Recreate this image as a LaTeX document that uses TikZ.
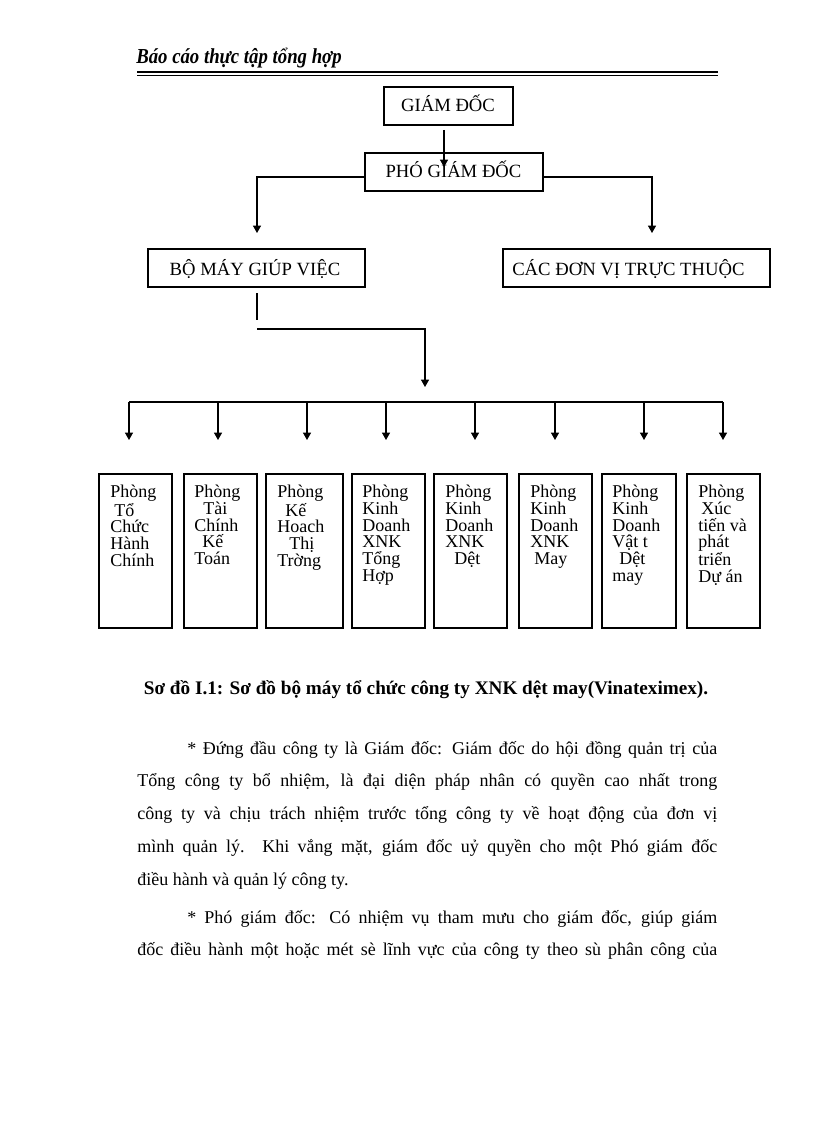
\documentclass[tikz,border=0pt]{standalone}
\usepackage{fontspec}
\setmainfont{Liberation Serif}
\usetikzlibrary{arrows.meta}
\newdimen\pxu
\pxu=0.75pt
\begin{document}
\begin{tikzpicture}[x=0.75pt,y=-0.75pt,
  box/.style={draw, line width=0.8pt, inner sep=0pt},
  conn/.style={line width=0.8pt},
  arr/.style={conn, -{Triangle[length=5.5pt,width=6pt]}},
  title/.style={font=\fontsize{14}{16}\selectfont, anchor=base, inner sep=0pt},
  ptext/.style={font=\fontsize{13.5}{12.5}\selectfont, align=left, anchor=north west, inner sep=0pt},
  body/.style={anchor=base west, inner sep=0pt, text width=580\pxu, align=justify, font=\fontsize{13.5}{24.6}\selectfont},
]
\useasboundingbox (0,0) rectangle (816,1123);

% header
\node[anchor=base west, inner sep=0pt, font=\fontsize{16}{18}\selectfont\bfseries\itshape] (hdr) at (136,64) {\scalebox{0.88}[1]{Báo cáo thực tập tổng hợp}};
\coordinate (ra) at (137,72.5);
\coordinate (rb) at (718,72.5);
\coordinate (rc) at (137,75.5);
\coordinate (rd) at (718,75.5);
\draw[line width=1.5pt] (ra) -- (rb);
\draw[line width=0.6pt] (rc) -- (rd);

% top boxes
\node[box, minimum width=129\pxu, minimum height=38\pxu] (gd) at (448.5,106) {};
\node[title] (gdt) at (448,112) {GIÁM ĐỐC};
\node[box, minimum width=178\pxu, minimum height=38\pxu] (pgd) at (454,172) {};
\node[title] (pgdt) at (453.5,178) {PHÓ GIÁM ĐỐC};
\node[box, minimum width=217\pxu, minimum height=38\pxu] (bm) at (256.5,268) {};
\node[title] (bmt) at (255,275) {BỘ MÁY GIÚP VIỆC};
\node[box, minimum width=267\pxu, minimum height=38\pxu] (cdv) at (636.5,268) {};
\node[title, anchor=base west] (cdvt) at (512,275) {CÁC ĐƠN VỊ TRỰC THUỘC};

% connectors top
\coordinate (a0) at (444,130);
\coordinate (a1) at (444,167);
\draw[arr] (a0) -- (a1);
\coordinate (l0) at (365,177);
\coordinate (l1) at (257,233);
\draw[arr] (l0) -| (l1);
\coordinate (r0) at (543,177);
\coordinate (r1) at (652,233);
\draw[arr] (r0) -| (r1);
\coordinate (s0) at (257,293);
\coordinate (s1) at (257,320);
\draw[conn] (s0) -- (s1);
\coordinate (m0) at (257,329);
\coordinate (m1) at (425,387);
\draw[arr] (m0) -| (m1);
\coordinate (bus0) at (129,402);
\coordinate (bus1) at (723,402);
\draw[conn] (bus0) -- (bus1);
\foreach \i/\x in {1/129,2/218,3/307,4/386,5/475,6/555,7/644,8/723}{
  \coordinate (d\i a) at (\x,402);
  \coordinate (d\i b) at (\x,440);
  \draw[arr] (d\i a) -- (d\i b);
}

% department boxes
\node[box, minimum width=73\pxu, minimum height=154\pxu] (b1) at (135.5,551) {};
\node[box, minimum width=73\pxu, minimum height=154\pxu] (b2) at (220.5,551) {};
\node[box, minimum width=77\pxu, minimum height=154\pxu] (b3) at (304.5,551) {};
\node[box, minimum width=73\pxu, minimum height=154\pxu] (b4) at (388.5,551) {};
\node[box, minimum width=73\pxu, minimum height=154\pxu] (b5) at (470.5,551) {};
\node[box, minimum width=73\pxu, minimum height=154\pxu] (b6) at (555.5,551) {};
\node[box, minimum width=74\pxu, minimum height=154\pxu] (b7) at (639,551) {};
\node[box, minimum width=73\pxu, minimum height=154\pxu] (b8) at (723.5,551) {};

\node[ptext] (t1) at (110,485) {Phòng\\\hspace*{4\pxu}Tổ\\Chức\\Hành\\Chính};
\node[ptext] (t2) at (194,485) {Phòng\\\hspace*{9\pxu}Tài\\Chính\\\hspace*{8\pxu}Kế\\Toán};
\node[ptext] (t3) at (277,485) {Phòng\\\hspace*{8\pxu}Kế\\Hoach\\\hspace*{12\pxu}Thị\\Trờng};
\node[ptext] (t4) at (362,485) {Phòng\\Kinh\\Doanh\\XNK\\Tổng\\Hợp};
\node[ptext] (t5) at (445,485) {Phòng\\Kinh\\Doanh\\XNK\\\hspace*{9\pxu}Dệt};
\node[ptext] (t6) at (530,485) {Phòng\\Kinh\\Doanh\\XNK\\\hspace*{4\pxu}May};
\node[ptext] (t7) at (612,485) {Phòng\\Kinh\\Doanh\\Vật t\\\hspace*{7\pxu}Dệt\\may};
\node[ptext] (t8) at (698,485) {Phòng\\\hspace*{3\pxu}Xúc\\tiến và\\phát\\triển\\Dự án};

% caption
\node[anchor=base, inner sep=0pt, font=\fontsize{14.4}{16}\selectfont\bfseries] (cap) at (426,694) {Sơ đồ I.1: Sơ đồ bộ máy tổ chức công ty XNK dệt may(Vinateximex).};

% body text
\node[body] (p1) at (137,754) {\hspace*{50\pxu}* Đứng đầu công ty là Giám đốc: Giám đốc do hội đồng quản trị của\linebreak Tổng công ty bổ nhiệm, là đại diện pháp nhân có quyền cao nhất trong\linebreak công ty và chịu trách nhiệm trước tổng công ty về hoạt động của đơn vị\linebreak mình quản lý. Khi vắng mặt, giám đốc uỷ quyền cho một Phó giám đốc\linebreak điều hành và quản lý công ty.};
\node[body] (p2) at (137,923) {\hspace*{50\pxu}* Phó giám đốc: Có nhiệm vụ tham mưu cho giám đốc, giúp giám\linebreak đốc điều hành một hoặc mét sè lĩnh vực của công ty theo sù phân công của\parfillskip=0pt\par};
\end{tikzpicture}
\end{document}
